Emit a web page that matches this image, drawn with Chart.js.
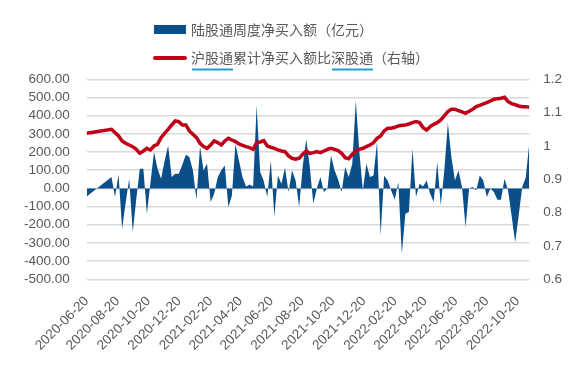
<!DOCTYPE html>
<html lang="zh">
<head>
<meta charset="UTF-8">
<title>陆股通周度净买入额</title>
<script src="https://cdn.jsdelivr.net/npm/chart.js"></script>
<style>
  html, body { margin: 0; padding: 0; background: #fff; }
</style>
</head>
<body>
<canvas id="chart" width="587" height="366"></canvas>
<script>
// x-axis labels (every two months)
const tickLabels = ['2020-06-20', '2020-08-20', '2020-10-20', '2020-12-20', '2021-02-20',
  '2021-04-20', '2021-06-20', '2021-08-20', '2021-10-20', '2021-12-20', '2022-02-20',
  '2022-04-20', '2022-06-20', '2022-08-20', '2022-10-20']

// weeks after 2020-06-20 for which there is a data point
const weekNo = [0,
  7, 8, 9, 10, 11, 12, 13, 14, 15, 16, 17, 18, 19, 20, 21, 22, 23, 24, 25, 26,
  27, 28, 29, 30, 31, 32, 33, 34, 35, 36, 37, 38, 39, 40, 41, 42, 43, 44, 45, 46,
  47, 48, 49, 50, 51, 52, 53, 54, 55, 56, 57, 58, 59, 60, 61, 62, 63, 64, 65, 66,
  67, 68, 69, 70, 71, 72, 73, 74, 75, 76, 77, 78, 79, 80, 81, 82, 83, 84, 85, 86,
  87, 88, 89, 90, 91, 92, 93, 94, 95, 96, 97, 98, 99, 100, 101, 102, 103, 104, 105, 106,
  107, 108, 109, 110, 111, 112, 113, 114, 115, 116, 117, 118, 119, 120, 121, 122, 123, 124, 125]

// 陆股通周度净买入额 (亿元)
const weeklyNetBuy = [-44,
  62, -48, 77, -222, -80, 53, -240, -60, 108, 108, -139, 30, 200, 110, 53, 150, 236, 62, 80, 80,
  130, 185, 172, 99, -62, 231, 99, 135, -75, -29, 60, 100, 126, -103, -40, 245, 154, 62, 11, 22,
  11, 456, 90, 40, -48, 154, -154, 71, 26, 114, -20, 99, 44, -103, 120, 270, 120, -84, 0, 62,
  -20, 0, 181, 100, 50, -20, 117, 62, 135, 484, 200, -10, 135, 62, 71, 255, -258, 70, 44, -11,
  -62, 35, -359, -139, -130, 218, -48, 26, 11, 44, -29, -75, 145, -93, 99, 359, 172, 44, 99, 7,
  -213, 0, 7, -11, 71, 44, -48, 0, -20, -62, -62, 53, -11, -150, -295, -150, 7, 60, 250]

// 沪股通累计净买入额比深股通 (右轴)
const shVsSzRatio = [1.038,
  1.050, 1.040, 1.030, 1.015, 1.008, 1.003, 0.998, 0.990, 0.978, 0.985, 0.993, 0.988, 1.000, 1.005, 1.025, 1.038, 1.050, 1.063, 1.075, 1.073,
  1.063, 1.063, 1.045, 1.035, 1.025, 1.008, 0.998, 0.993, 1.003, 1.015, 1.010, 1.003, 1.015, 1.023, 1.018, 1.013, 1.006, 1.002, 0.998, 0.995,
  0.990, 1.010, 1.012, 1.016, 1.000, 0.996, 0.993, 0.988, 0.985, 0.983, 0.970, 0.963, 0.960, 0.963, 0.975, 0.985, 0.978, 0.980, 0.983, 0.980,
  0.985, 0.990, 0.993, 0.990, 0.986, 0.978, 0.965, 0.962, 0.975, 0.985, 0.990, 0.993, 0.998, 1.003, 1.010, 1.023, 1.030, 1.045, 1.053, 1.053,
  1.056, 1.060, 1.062, 1.063, 1.066, 1.070, 1.073, 1.070, 1.055, 1.048, 1.058, 1.065, 1.070, 1.078, 1.090, 1.103, 1.110, 1.110, 1.106, 1.102,
  1.098, 1.104, 1.110, 1.118, 1.122, 1.126, 1.130, 1.135, 1.140, 1.142, 1.143, 1.146, 1.133, 1.127, 1.124, 1.120, 1.118, 1.118, 1.116]

const BLUE = '#0B4F8A'
const RED = '#C00018'
const GREY = '#595959'
const LATIN = '"Liberation Sans", Arial, sans-serif'
const CJK = '"Noto Sans CJK SC", sans-serif'

const DAY = 86400000
const start = Date.UTC(2020, 5, 20)
const dayOf = s => {
  const [y, m, d] = s.split('-').map(Number)
  return (Date.UTC(y, m - 1, d) - start) / DAY
}
const tickDays = tickLabels.map(dayOf)

const barPoints = weekNo.map((w, i) => ({ x: w * 7, y: weeklyNetBuy[i] }))
const linePoints = weekNo.map((w, i) => ({ x: w * 7, y: shVsSzRatio[i] }))

// two stacked legend rows drawn above the plot
const stackedLegend = {
  id: 'stackedLegend',
  afterDraw(chart) {
    const ctx = chart.ctx
    const [line, area] = chart.data.datasets
    ctx.save()
    ctx.font = '14px ' + CJK
    ctx.textBaseline = 'middle'

    ctx.fillStyle = area.backgroundColor
    ctx.fillRect(154, 25, 32, 9)
    ctx.fillStyle = GREY
    ctx.fillText(area.label, 191, 30)

    ctx.strokeStyle = line.borderColor
    ctx.lineWidth = 4
    ctx.lineCap = 'round'
    ctx.beginPath()
    ctx.moveTo(155, 58)
    ctx.lineTo(185, 58)
    ctx.stroke()
    ctx.fillText(line.label, 191, 58)

    // the cyan marks under 沪股通 / 深股通
    const w3 = ctx.measureText('沪股通').width
    const off = ctx.measureText('沪股通累计净买入额比').width
    ctx.strokeStyle = '#1AA3C8'
    ctx.lineWidth = 2
    ctx.lineCap = 'butt'
    ctx.beginPath()
    ctx.moveTo(192, 69.5); ctx.lineTo(191 + w3, 69.5)
    ctx.moveTo(192 + off, 69.5); ctx.lineTo(191 + off + w3, 69.5)
    ctx.stroke()
    ctx.restore()
  }
}

new Chart(document.getElementById('chart'), {
  data: {
    datasets: [{
      type: 'line',
      label: '沪股通累计净买入额比深股通（右轴）',
      data: linePoints,
      yAxisID: 'y1',
      borderColor: RED,
      borderWidth: 3.5,
      pointRadius: 0,
      tension: 0,
      fill: false
    }, {
      type: 'line',
      label: '陆股通周度净买入额（亿元）',
      data: barPoints,
      yAxisID: 'y',
      backgroundColor: BLUE,
      borderColor: BLUE,
      borderWidth: 0,
      pointRadius: 0,
      tension: 0,
      fill: 'origin'
    }]
  },
  options: {
    responsive: false,
    animation: false,
    layout: { padding: { top: 79.3, left: 0, right: 0, bottom: 0 } },
    plugins: { legend: { display: false }, tooltip: { enabled: false } },
    scales: {
      x: {
        type: 'linear',
        min: 0,
        max: 875,
        grid: { display: false },
        border: { display: false },
        afterBuildTicks: s => { s.ticks = tickDays.map(v => ({ value: v })) },
        afterFit: s => { s.height = 366 - 279.3 },
        ticks: {
          autoSkip: false,
          maxRotation: 45,
          minRotation: 45,
          padding: 6,
          color: GREY,
          font: { family: LATIN, size: 13.5 },
          callback: (v, i) => tickLabels[i]
        }
      },
      y: {
        position: 'left',
        min: -500,
        max: 600,
        afterFit: s => { s.width = 86.7 },
        grid: { color: '#D9D9D9', lineWidth: 1.5, drawTicks: false },
        border: { display: false },
        ticks: {
          stepSize: 100,
          autoSkip: false,
          padding: 17,
          color: GREY,
          font: { family: LATIN, size: 13.5 },
          callback: v => v.toFixed(2)
        }
      },
      y1: {
        position: 'right',
        min: 0.6,
        max: 1.2,
        afterFit: s => { s.width = 587 - 529.3 },
        grid: { drawOnChartArea: false, drawTicks: false },
        border: { display: false },
        ticks: {
          stepSize: 0.1,
          autoSkip: false,
          padding: 14,
          color: GREY,
          font: { family: LATIN, size: 13.5 },
          callback: v => String(+v.toFixed(1))
        }
      }
    }
  },
  plugins: [stackedLegend]
})
</script>
</body>
</html>
